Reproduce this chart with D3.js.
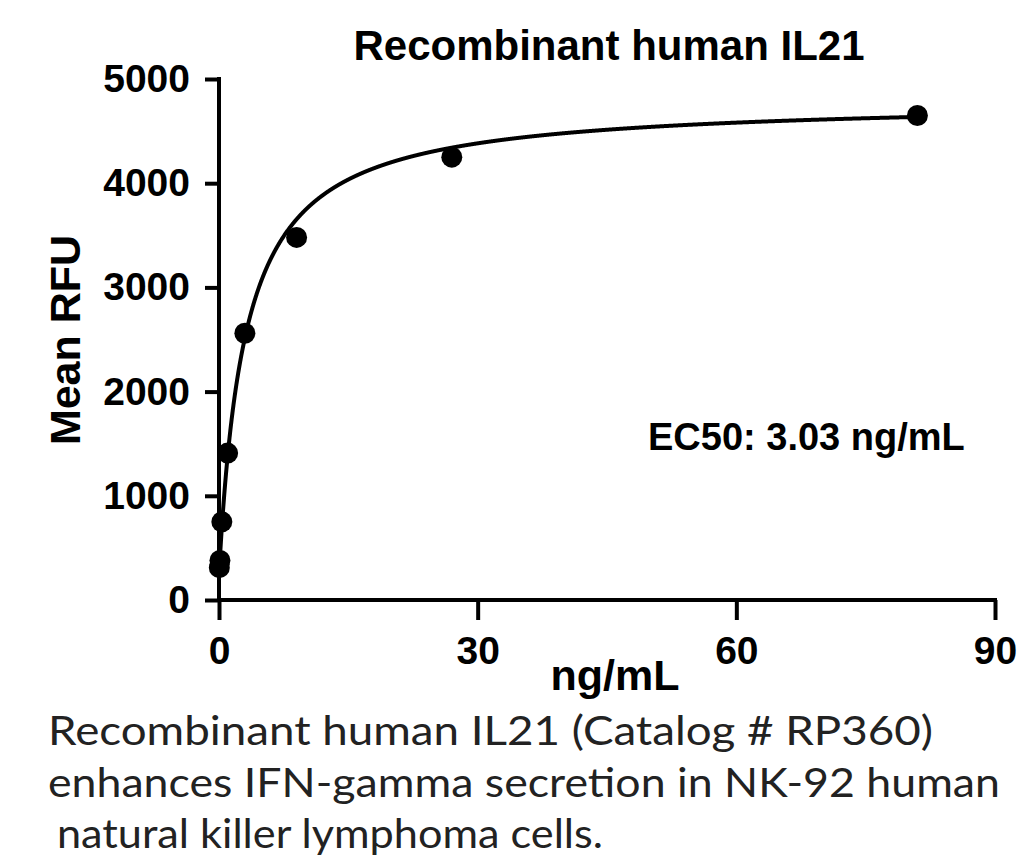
<!DOCTYPE html>
<html>
<head>
<meta charset="utf-8">
<script src="https://cdn.jsdelivr.net/npm/d3@7"></script>
<style>
  body { margin: 0; background: #fff; }
  svg { display: block; }
</style>
</head>
<body>
<div id="chart"></div>
<script>
// measured points (ng/mL vs mean RFU)
const conc = [0.037, 0.11, 0.33, 1, 3, 9, 27, 81];
const rfu = [310, 380, 750, 1410, 2560, 3480, 4250, 4650];

// 4PL fit shown as the curve: bottom, top, EC50, hill slope
const fitParams = [250, 4800, 3.03, 1.0];

const xTicks = [0, 30, 60, 90];
const yTicks = [0, 1000, 2000, 3000, 4000, 5000];

const captionLines = [
    "Recombinant human IL21 (Catalog # RP360)",
    "enhances IFN-gamma secretion in NK-92 human",
    "natural killer lymphoma cells."
];

const W = 1024, H = 859;
const margin = {top: 79, left: 219, right: 29, bottom: 259};

const svg = d3.select("#chart")
    .append("svg")
    .attr("width", W)
    .attr("height", H);

const x = d3.scaleLinear().domain([0, 90]).range([margin.left, W - margin.right]);
const y = d3.scaleLinear().domain([0, 5000]).range([H - margin.bottom, margin.top]);

const boldFont = "'Liberation Sans', Arial, sans-serif";

// title
svg.append("text")
    .attr("x", 609).attr("y", 60)
    .attr("text-anchor", "middle")
    .style("font-family", boldFont).style("font-weight", "bold").style("font-size", "42px")
    .text("Recombinant human IL21");

// axes
const xAxis = svg.append("g")
    .attr("transform", "translate(0," + y(0) + ")")
    .call(d3.axisBottom(x).tickValues(xTicks).tickSize(20).tickPadding(16).tickFormat(d3.format("d")));

const yAxis = svg.append("g")
    .attr("transform", "translate(" + x(0) + ",0)")
    .call(d3.axisLeft(y).tickValues(yTicks).tickSize(14).tickPadding(15).tickFormat(d3.format("d")));

[xAxis, yAxis].forEach(function(g) {
    g.select(".domain").attr("stroke", "#000").attr("stroke-width", 4).attr("stroke-linecap", "square");
    g.selectAll(".tick line").attr("stroke", "#000").attr("stroke-width", 4);
    g.selectAll(".tick text")
        .attr("fill", "#000")
        .style("font-family", boldFont).style("font-weight", "bold").style("font-size", "39px");
});
xAxis.select(".domain").attr("d", "M" + x(0) + ",0H" + x(90));
yAxis.select(".domain").attr("d", "M0," + y(0) + "V" + y(5000));

// axis titles
svg.append("text")
    .attr("x", 615).attr("y", 690)
    .attr("text-anchor", "middle")
    .style("font-family", boldFont).style("font-weight", "bold").style("font-size", "43px")
    .text("ng/mL");

svg.append("text")
    .attr("transform", "translate(80,340) rotate(-90)")
    .attr("text-anchor", "middle")
    .style("font-family", boldFont).style("font-weight", "bold").style("font-size", "43px")
    .text("Mean RFU");

// fitted curve
const [fitBottom, fitTop, ec50, hill] = fitParams;
const fitX = d3.range(0, 81.01, 0.02);
const line = d3.line()
    .x(function(d) { return x(d); })
    .y(function(d) { return y(fitBottom + (fitTop - fitBottom) * Math.pow(d, hill) / (Math.pow(ec50, hill) + Math.pow(d, hill))); });

svg.append("path")
    .datum(fitX)
    .attr("d", line)
    .attr("fill", "none")
    .attr("stroke", "#000")
    .attr("stroke-width", 4);

// points
svg.selectAll("circle.pt")
    .data(conc)
    .enter()
    .append("circle")
    .attr("class", "pt")
    .attr("cx", function(d) { return x(d); })
    .attr("cy", function(d, i) { return y(rfu[i]); })
    .attr("r", 10.5)
    .attr("fill", "#000");

// EC50 label
svg.append("text")
    .attr("x", 648).attr("y", 450)
    .style("font-family", boldFont).style("font-weight", "bold").style("font-size", "38px")
    .text("EC50: " + ec50.toFixed(2) + " ng/mL");

// caption (geometric face in the original, fitted to its line widths)
const capX = [48, 48, 57];
const capW = [885, 952, 546];
svg.selectAll("text.cap")
    .data(captionLines)
    .enter()
    .append("text")
    .attr("class", "cap")
    .attr("x", function(d, i) { return capX[i]; })
    .attr("y", function(d, i) { return 745 + i * 51.5; })
    .attr("textLength", function(d, i) { return capW[i]; })
    .attr("lengthAdjust", "spacingAndGlyphs")
    .style("font-family", "Lato, 'Open Sans', sans-serif")
    .style("font-weight", 400)
    .style("font-size", "40px")
    .attr("fill", "#222")
    .text(function(d) { return d; });
</script>
</body>
</html>
